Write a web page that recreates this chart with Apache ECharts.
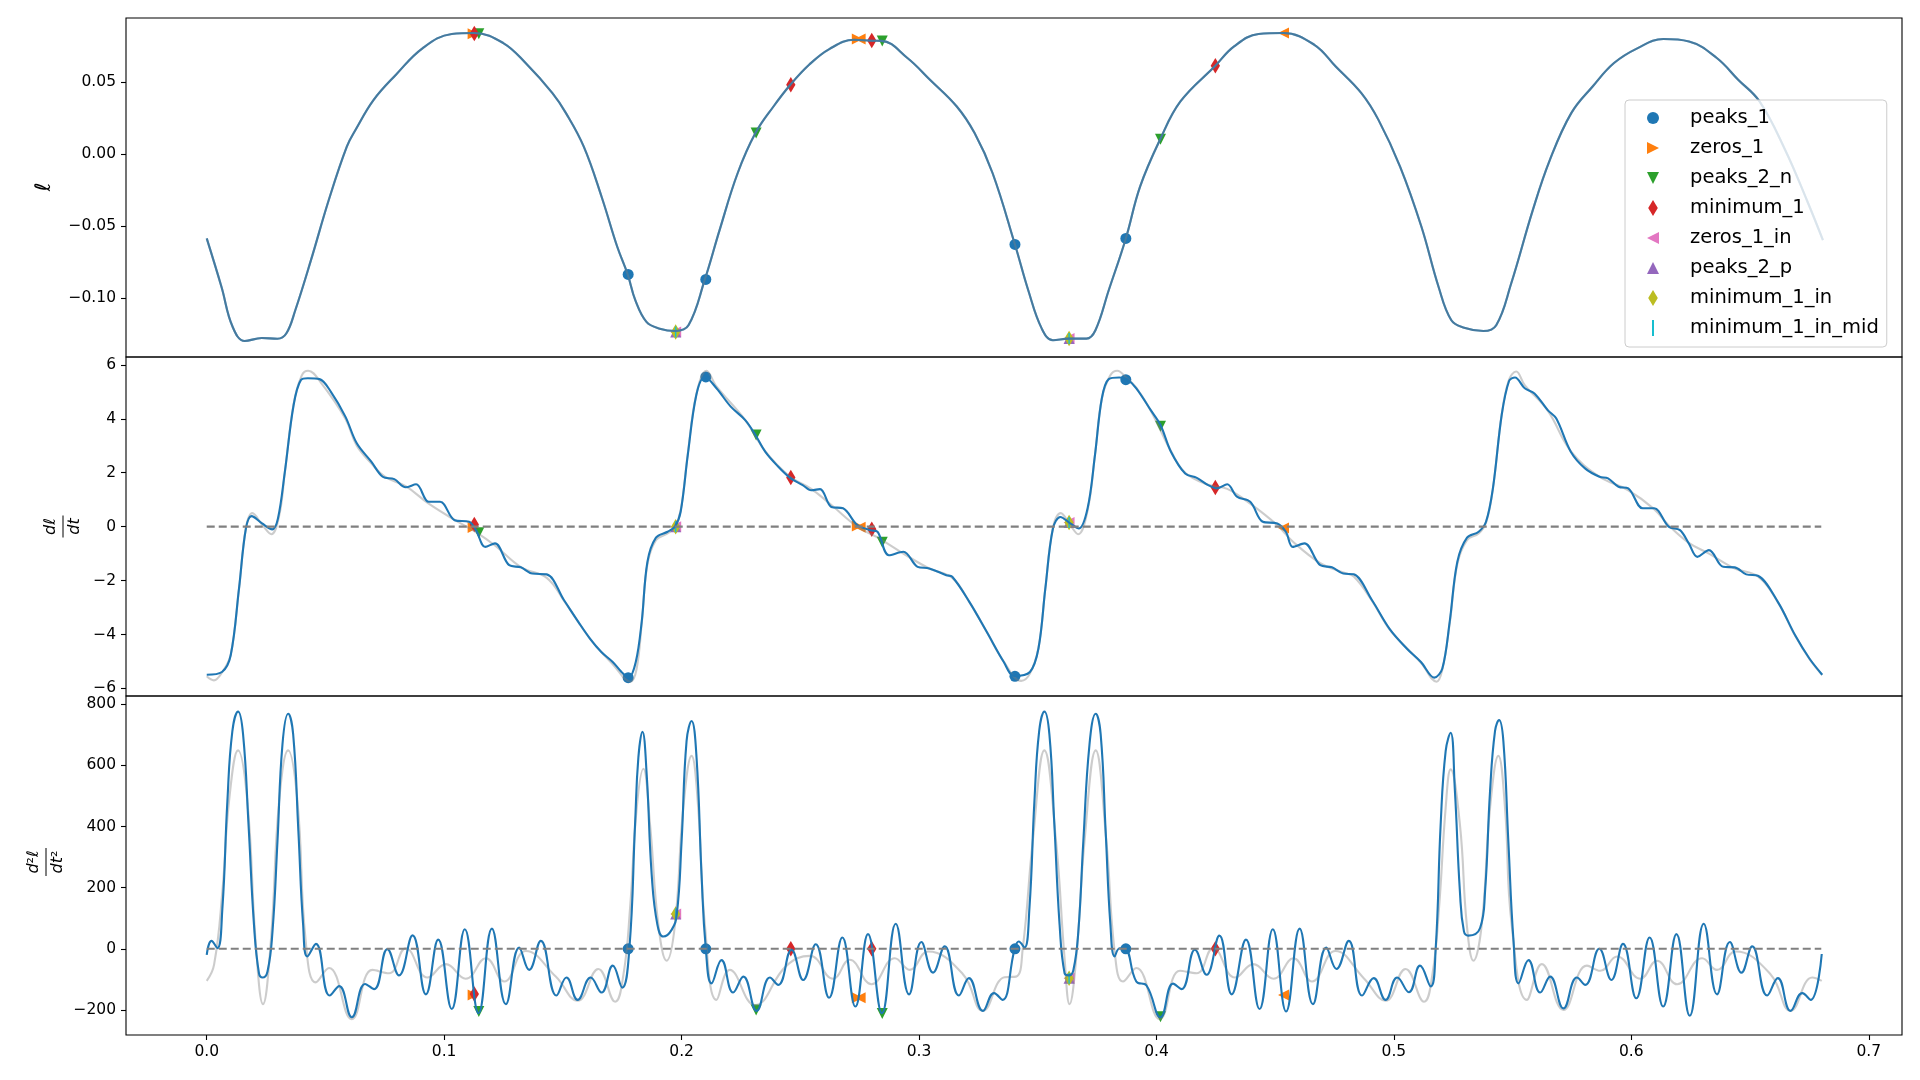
<!DOCTYPE html>
<html><head><meta charset="utf-8">
<script src="https://cdn.jsdelivr.net/npm/echarts@6/dist/echarts.min.js"></script>
<style>html,body{margin:0;padding:0;background:#fff}#c{width:1920px;height:1080px}</style>
</head><body><div id="c"></div>
<script>
// ---------- tick values ----------
const xTicks = [0, 0.1, 0.2, 0.3, 0.4, 0.5, 0.6, 0.7];
const ellTicks = [-0.10, -0.05, 0.00, 0.05];
const dTicks = [-6, -4, -2, 0, 2, 4, 6];
const d2Ticks = [-200, 0, 200, 400, 600, 800];

// ---------- curves [t, value] ----------
const ellLine = [[0,-0.0586],[0.0062,-0.0922],[0.0109,-0.1200],[0.0160,-0.1299],[0.0232,-0.1278],[0.0298,-0.1283],[0.0335,-0.1247],[0.0373,-0.1085],[0.0439,-0.0737],[0.0514,-0.0319],[0.0590,0.0052],[0.0627,0.0169],[0.0703,0.0377],[0.0797,0.0552],[0.0910,0.0737],[0.1032,0.0835],[0.1126,0.0842],[0.1249,0.0772],[0.1343,0.0633],[0.1456,0.0424],[0.1513,0.0285],[0.1588,0.0052],[0.1663,-0.0296],[0.1729,-0.0644],[0.1773,-0.0836],[0.1805,-0.1015],[0.1852,-0.1166],[0.1908,-0.1213],[0.1974,-0.1229],[0.2029,-0.1190],[0.2098,-0.0871],[0.2160,-0.0528],[0.2236,-0.0133],[0.2311,0.0146],[0.2387,0.0331],[0.2458,0.0482],[0.2537,0.0621],[0.2622,0.0730],[0.2726,0.0795],[0.2801,0.0788],[0.2842,0.0787],[0.2951,0.0668],[0.3046,0.0517],[0.3159,0.0331],[0.3234,0.0146],[0.3310,-0.0133],[0.3404,-0.0628],[0.3460,-0.0946],[0.3517,-0.1213],[0.3564,-0.1294],[0.3630,-0.1282],[0.3705,-0.1282],[0.3743,-0.1224],[0.3799,-0.0946],[0.3871,-0.0586],[0.3931,-0.0226],[0.4016,0.0104],[0.4101,0.0366],[0.4248,0.0614],[0.4327,0.0749],[0.4430,0.0835],[0.4534,0.0842],[0.4665,0.0760],[0.4755,0.0609],[0.4863,0.0424],[0.4935,0.0238],[0.5026,-0.0087],[0.5116,-0.0505],[0.5188,-0.0922],[0.5242,-0.1155],[0.5296,-0.1206],[0.5377,-0.1229],[0.5431,-0.1189],[0.5494,-0.0899],[0.5585,-0.0389],[0.5657,-0.0040],[0.5747,0.0285],[0.5837,0.0470],[0.5927,0.0633],[0.6027,0.0737],[0.6135,0.0800],[0.6243,0.0783],[0.6360,0.0668],[0.6450,0.0517],[0.6540,0.0366],[0.6648,0.0029],[0.6739,-0.0319],[0.6807,-0.0598]];

const dLine = [[0,-5.49],[0.0064,-5.39],[0.0101,-4.77],[0.0136,-2.29],[0.0165,-0.07],[0.0189,0.39],[0.0233,0.12],[0.0276,-0.1],[0.03,0.3],[0.0329,2.03],[0.0366,4.51],[0.0397,5.44],[0.0426,5.5],[0.0475,5.47],[0.0523,5.0],[0.0584,4.08],[0.0632,3.09],[0.0693,2.41],[0.0741,1.85],[0.079,1.76],[0.0838,1.46],[0.0882,1.57],[0.0935,0.92],[0.0983,0.92],[0.1044,0.24],[0.1105,0.18],[0.1134,-0.13],[0.1173,-0.75],[0.1214,-0.62],[0.1274,-1.43],[0.1323,-1.51],[0.1371,-1.74],[0.1432,-1.77],[0.1505,-2.73],[0.1565,-3.53],[0.1614,-4.15],[0.1662,-4.65],[0.171,-5.02],[0.1747,-5.39],[0.1776,-5.61],[0.1807,-5.02],[0.1832,-3.53],[0.1856,-1.31],[0.1892,-0.41],[0.1941,-0.19],[0.1972,0],[0.1996,0.55],[0.2026,2.65],[0.2062,4.88],[0.2098,5.56],[0.2147,5.13],[0.2207,4.45],[0.2268,3.95],[0.2311,3.4],[0.2352,2.78],[0.2401,2.28],[0.2457,1.81],[0.251,1.54],[0.2546,1.35],[0.2583,1.39],[0.2631,0.73],[0.268,0.68],[0.274,0.06],[0.2796,-0.13],[0.2825,-0.19],[0.2873,-1.06],[0.2934,-0.93],[0.2994,-1.49],[0.3043,-1.55],[0.3115,-1.8],[0.314,-1.86],[0.3212,-2.79],[0.3285,-3.9],[0.3357,-5.02],[0.3401,-5.54],[0.3467,-5.39],[0.3503,-4.52],[0.3532,-2.29],[0.3564,-0.07],[0.3595,0.36],[0.3637,0.12],[0.3673,-0.07],[0.371,0.68],[0.3741,2.65],[0.377,4.76],[0.3799,5.47],[0.3843,5.53],[0.3875,5.47],[0.3915,5.13],[0.3976,4.32],[0.4017,3.77],[0.4061,2.78],[0.4121,1.97],[0.417,1.81],[0.4218,1.54],[0.4255,1.42],[0.4298,1.57],[0.4339,1.11],[0.4395,0.92],[0.4448,0.18],[0.4509,0.12],[0.4545,-0.19],[0.4574,-0.75],[0.4623,-0.62],[0.469,-1.43],[0.4739,-1.51],[0.4787,-1.74],[0.4831,-1.77],[0.4908,-2.73],[0.4981,-3.78],[0.5054,-4.52],[0.5114,-5.02],[0.517,-5.6],[0.5204,-5.26],[0.5235,-3.53],[0.5267,-1.31],[0.5308,-0.41],[0.5357,-0.19],[0.5388,0.18],[0.5417,1.42],[0.5454,4.14],[0.5485,5.4],[0.551,5.53],[0.5551,5.13],[0.5592,4.94],[0.5648,4.32],[0.5684,4.01],[0.5745,2.78],[0.5805,2.16],[0.5866,1.85],[0.5902,1.79],[0.5946,1.48],[0.5987,1.42],[0.6048,0.68],[0.6096,0.68],[0.6157,0],[0.6205,-0.13],[0.6242,-0.62],[0.6278,-1.12],[0.6327,-0.87],[0.6387,-1.49],[0.6436,-1.51],[0.6484,-1.77],[0.6533,-1.82],[0.6617,-2.79],[0.669,-4.03],[0.675,-4.89],[0.6804,-5.49]];

const dRaw = [[0,-5.55],[0.003,-5.7],[0.0065,-5.4],[0.0101,-4.75],[0.0136,-2.3],[0.0165,-0.05],[0.0192,0.5],[0.0235,0.05],[0.0272,-0.28],[0.0305,0.4],[0.0329,2.0],[0.0366,4.55],[0.04,5.6],[0.0427,5.78],[0.048,5.35],[0.0584,4.0],[0.0632,3.0],[0.0693,2.35],[0.075,1.85],[0.0838,1.5],[0.0935,0.85],[0.1044,0.25],[0.1134,-0.2],[0.1214,-0.7],[0.1323,-1.5],[0.1432,-1.9],[0.1505,-2.75],[0.1614,-4.15],[0.171,-5.1],[0.1785,-5.75],[0.181,-5.3],[0.1832,-3.6],[0.1856,-1.4],[0.1892,-0.5],[0.1941,-0.25],[0.1972,0],[0.1996,0.6],[0.2026,2.7],[0.2062,4.9],[0.2105,5.78],[0.2147,5.2],[0.2268,3.95],[0.2352,2.8],[0.2457,1.85],[0.2546,1.4],[0.2631,0.8],[0.274,0.0],[0.2825,-0.4],[0.2934,-1.0],[0.3043,-1.55],[0.314,-1.9],[0.3212,-2.8],[0.3285,-3.9],[0.3357,-5.0],[0.343,-5.72],[0.3467,-5.45],[0.3503,-4.5],[0.3532,-2.3],[0.3564,-0.05],[0.3597,0.5],[0.3637,0.05],[0.367,-0.28],[0.371,0.6],[0.3741,2.65],[0.377,4.75],[0.3805,5.6],[0.3835,5.78],[0.3875,5.5],[0.3915,5.15],[0.3976,4.3],[0.4061,2.8],[0.4121,2.0],[0.4218,1.55],[0.4298,1.4],[0.4395,0.85],[0.4509,0.05],[0.4574,-0.55],[0.469,-1.35],[0.4787,-1.7],[0.4831,-1.85],[0.4908,-2.75],[0.4981,-3.8],[0.5054,-4.5],[0.5114,-5.05],[0.518,-5.75],[0.5204,-5.3],[0.5235,-3.6],[0.5267,-1.4],[0.5308,-0.5],[0.5357,-0.25],[0.5388,0.15],[0.5417,1.4],[0.5454,4.15],[0.5485,5.45],[0.5515,5.75],[0.5551,5.25],[0.5648,4.3],[0.5745,2.8],[0.5866,1.85],[0.5987,1.35],[0.6096,0.65],[0.6157,0.05],[0.6242,-0.6],[0.6327,-1.0],[0.6436,-1.55],[0.6533,-1.85],[0.6617,-2.8],[0.669,-4.05],[0.675,-4.9],[0.6804,-5.5]];

const d2Line = [[0,-20],[0.002,26],[0.0045,2],[0.0066,133],[0.0087,483],[0.0108,712],[0.0132,776],[0.0153,702],[0.0176,407],[0.0199,79],[0.022,-80],[0.0235,-94],[0.0256,-74],[0.0277,57],[0.0298,352],[0.0319,669],[0.0343,769],[0.0364,702],[0.0386,385],[0.0406,79],[0.0424,-25],[0.046,16],[0.0518,-153],[0.0558,-122],[0.0611,-224],[0.0667,-115],[0.0705,-132],[0.0761,-1],[0.081,-87],[0.0867,44],[0.0923,-149],[0.0975,30],[0.1032,-197],[0.1087,64],[0.1145,-211],[0.1201,66],[0.126,-181],[0.1316,4],[0.1358,-69],[0.1407,26],[0.1473,-153],[0.1515,-94],[0.1562,-167],[0.1617,-94],[0.1663,-143],[0.171,-55],[0.175,-127],[0.178,0],[0.1804,407],[0.1818,626],[0.1835,710],[0.1853,570],[0.1874,243],[0.1898,79],[0.1923,40],[0.1958,62],[0.198,114],[0.2,352],[0.2021,680],[0.2042,745],[0.2063,625],[0.2084,243],[0.2102,0],[0.2126,-113],[0.2168,-37],[0.2217,-143],[0.226,-91],[0.2316,-203],[0.2372,-94],[0.2407,-118],[0.2463,-3],[0.2512,-102],[0.2565,15],[0.2621,-160],[0.2677,37],[0.2732,-189],[0.2785,48],[0.2844,-211],[0.2902,82],[0.2958,-149],[0.301,22],[0.3059,-78],[0.3108,8],[0.3168,-153],[0.321,-96],[0.3269,-203],[0.3316,-145],[0.3351,-167],[0.3403,0],[0.342,24],[0.3444,4],[0.3465,133],[0.3486,483],[0.3506,712],[0.3528,776],[0.3549,702],[0.357,407],[0.3592,79],[0.3613,-80],[0.3631,-87],[0.365,-70],[0.3671,57],[0.3692,352],[0.3718,669],[0.3744,769],[0.3765,702],[0.3786,385],[0.3806,79],[0.3824,-25],[0.3845,2],[0.3869,0],[0.3915,-107],[0.3958,-120],[0.4017,-224],[0.407,-114],[0.4106,-132],[0.4162,-3],[0.4211,-85],[0.4265,43],[0.4317,-149],[0.4377,30],[0.4434,-197],[0.449,64],[0.4546,-205],[0.4603,66],[0.4659,-181],[0.4715,4],[0.4758,-66],[0.481,26],[0.4866,-153],[0.4915,-96],[0.4965,-167],[0.5014,-94],[0.5063,-142],[0.511,-55],[0.5155,-123],[0.5176,0],[0.5197,407],[0.5218,647],[0.5239,707],[0.5257,516],[0.5278,188],[0.5295,57],[0.5314,43],[0.5363,68],[0.5384,188],[0.5405,516],[0.5426,713],[0.5443,748],[0.5461,680],[0.5482,352],[0.5504,24],[0.5525,-113],[0.5567,-37],[0.5616,-143],[0.5658,-91],[0.5714,-195],[0.5771,-94],[0.5806,-118],[0.5865,0],[0.5916,-102],[0.5965,16],[0.6021,-162],[0.6077,37],[0.6134,-189],[0.619,48],[0.6246,-219],[0.6305,82],[0.6361,-149],[0.6415,22],[0.6464,-78],[0.6509,8],[0.6572,-153],[0.6617,-96],[0.6671,-203],[0.672,-145],[0.6755,-167],[0.6802,-17]];

const d2Raw = [[0,-105],[0.0031,-52],[0.0066,188],[0.0094,483],[0.0132,649],[0.0171,483],[0.0206,24],[0.0237,-181],[0.027,24],[0.0305,483],[0.0343,649],[0.0382,483],[0.0417,24],[0.0459,-110],[0.0515,-63],[0.0611,-230],[0.0698,-69],[0.0768,-80],[0.0838,2],[0.093,-94],[0.1007,-50],[0.1091,-98],[0.1176,-31],[0.1253,-107],[0.1344,-7],[0.147,-91],[0.1562,-170],[0.1649,-66],[0.172,-173],[0.1755,-85],[0.1783,133],[0.1811,461],[0.1839,589],[0.1867,407],[0.1902,79],[0.1937,-39],[0.1972,79],[0.2007,461],[0.2042,631],[0.207,461],[0.2098,79],[0.2147,-167],[0.2203,-69],[0.2309,-184],[0.2442,-55],[0.254,-23],[0.2638,-98],[0.2708,-36],[0.28,-116],[0.2898,-31],[0.2961,-69],[0.3038,-9],[0.3185,-83],[0.3269,-203],[0.336,-93],[0.3409,-91],[0.3437,2],[0.3479,352],[0.3528,649],[0.3577,352],[0.3613,-31],[0.3634,-181],[0.3662,-31],[0.3697,352],[0.3744,649],[0.3789,352],[0.3824,-9],[0.3859,-107],[0.3915,-63],[0.4014,-230],[0.4099,-72],[0.4169,-80],[0.4239,2],[0.4331,-94],[0.4408,-50],[0.4493,-98],[0.4577,-31],[0.4655,-107],[0.4754,-7],[0.4873,-96],[0.4965,-170],[0.5049,-66],[0.5127,-173],[0.5162,-85],[0.519,133],[0.5218,461],[0.5239,587],[0.5278,407],[0.5307,79],[0.5335,-39],[0.537,79],[0.5405,461],[0.544,631],[0.5468,461],[0.5496,79],[0.556,-167],[0.5623,-50],[0.5714,-200],[0.5813,-55],[0.5869,-72],[0.594,-25],[0.6038,-98],[0.6108,-39],[0.6193,-116],[0.6298,-31],[0.6361,-69],[0.6439,-9],[0.6586,-83],[0.6671,-203],[0.6762,-94],[0.6802,-105]];

const zeroLine = [[0, 0], [0.68, 0]];

// ---------- event markers ----------
const peaks1T   = [0.1775, 0.2102, 0.3404, 0.3871];
const peaks1Ell = [-0.0836, -0.0871, -0.0628, -0.0586];
const peaks1D   = [-5.6, 5.55, -5.55, 5.45];
const peaks1D2  = [0, 0, 0, 0];

const zeros1T    = [0.1122, 0.2740, 0.2752, 0.4535];
const zeros1Kind = ['rise', 'rise', 'fall', 'fall'];
const zeros1Ell  = [0.0837, 0.0800, 0.0800, 0.0842];
const zeros1D    = [-0.03, 0.02, -0.02, -0.05];
const zeros1D2   = [-151, -160, -160, -151];

const peaks2nT   = [0.1146, 0.2314, 0.2845, 0.4017];
const peaks2nEll = [0.0836, 0.0146, 0.0786, 0.0104];
const peaks2nD   = [-0.23, 3.4, -0.58, 3.72];
const peaks2nD2  = [-205, -200, -212, -222];

const min1T   = [0.1127, 0.2460, 0.2801, 0.4248];
const min1Ell = [0.0838, 0.0482, 0.0789, 0.0614];
const min1D   = [0.08, 1.82, -0.1, 1.45];
const min1D2  = [-148, 0, 0, 0];

const inT   = [0.1975, 0.3632];
const inEll = [-0.1236, -0.1282];
const inD   = [0.0, 0.15];
const inD2  = [114, -96];

// ---------- styles / layout ----------
const BLUE = '#1f77b4';
const GRAY = 'rgba(128,128,128,0.4)';
const SYM = {
  right: 'path://M0,0L2,1L0,2Z',
  left: 'path://M2,0L0,1L2,2Z',
  down: 'path://M0,0L2,0L1,2Z',
  up: 'path://M1,0L2,2L0,2Z',
  thin: 'path://M3,0L6,5L3,10L0,5Z',
  vline: 'path://M0,0L1.4,0L1.4,11L0,11Z'
};
const FONT = 'DejaVu Sans';
const minus = s => s.replace('-', '\u2212');

const grids = [18, 357, 696].map(top => ({
  left: 126, top: top, width: 1776, height: 339, show: true,
  borderColor: '#000', borderWidth: 1.1, backgroundColor: 'transparent',
  containLabel: false, outerBoundsMode: 'none'
}));

const xAxes = [0, 1, 2].map(i => ({
  type: 'value', gridIndex: i, min: -0.034, max: 0.714, position: 'bottom',
  splitLine: { show: false }, axisLine: { show: false, onZero: false },
  axisTick: { show: i === 2, length: 5, lineStyle: { color: '#000', width: 1.1 }, customValues: xTicks },
  axisLabel: { show: i === 2, customValues: xTicks, formatter: v => v.toFixed(1),
    color: '#000', fontSize: 15.5, fontFamily: FONT, margin: 9 }
}));

function yAxis(i, min, max, ticks, fmt) {
  return {
    type: 'value', gridIndex: i, min: min, max: max, position: 'left',
    splitLine: { show: false }, axisLine: { show: false, onZero: false },
    axisTick: { show: true, length: 5, lineStyle: { color: '#000', width: 1.1 }, customValues: ticks },
    axisLabel: { customValues: ticks, formatter: fmt, color: '#000', fontSize: 15.5, fontFamily: FONT, margin: 10 }
  };
}
const yAxes = [
  yAxis(0, -0.141, 0.0946, ellTicks, v => minus(v.toFixed(2))),
  yAxis(1, -6.28, 6.29, dTicks, v => minus(String(Math.round(v)))),
  yAxis(2, -282, 827, d2Ticks, v => minus(String(Math.round(v))))
];

function lineSeries(gi, data, color, width, smooth, extra) {
  return Object.assign({
    type: 'line', xAxisIndex: gi, yAxisIndex: gi, data: data, showSymbol: false,
    smooth: smooth, lineStyle: { color: color, width: width }, itemStyle: { color: color },
    silent: true, animation: false, emphasis: { disabled: true }
  }, extra || {});
}

const series = [
  lineSeries(0, ellLine, BLUE, 2.1, 0.4),
  lineSeries(0, ellLine, GRAY, 2.1, 0.4),
  lineSeries(1, dRaw, GRAY, 2.1, 0.4),
  lineSeries(1, dLine, BLUE, 2.1, 0.35),
  lineSeries(1, zeroLine, '#808080', 2.1, false, { lineStyle: { color: '#808080', width: 2.1, type: [8, 4] } }),
  lineSeries(2, d2Raw, GRAY, 2.1, 0.45),
  lineSeries(2, d2Line, BLUE, 2.1, 0.45),
  lineSeries(2, zeroLine, '#808080', 2.1, false, { lineStyle: { color: '#808080', width: 2.1, type: [8, 4] } })
];

const markerDefs = [
  { name: 'peaks_1', color: '#1f77b4', symbol: 'circle', size: 11, t: peaks1T, vals: [peaks1Ell, peaks1D, peaks1D2] },
  { name: 'zeros_1', color: '#ff7f0e', symbol: SYM.right, size: 11, t: zeros1T, vals: [zeros1Ell, zeros1D, zeros1D2], kind: zeros1Kind },
  { name: 'peaks_2_n', color: '#2ca02c', symbol: SYM.down, size: 11, t: peaks2nT, vals: [peaks2nEll, peaks2nD, peaks2nD2] },
  { name: 'minimum_1', color: '#d62728', symbol: SYM.thin, size: 15.5, t: min1T, vals: [min1Ell, min1D, min1D2] },
  { name: 'zeros_1_in', color: '#e377c2', symbol: SYM.left, size: 11, t: inT, vals: [inEll, inD, inD2] },
  { name: 'peaks_2_p', color: '#9467bd', symbol: SYM.up, size: 11, t: inT, vals: [inEll, inD, inD2] },
  { name: 'minimum_1_in', color: '#bcbd22', symbol: SYM.thin, size: 15.5, t: inT, vals: [inEll, inD, inD2] },
  { name: 'minimum_1_in_mid', color: '#17becf', symbol: SYM.vline, size: 11, t: inT, vals: [inEll, inD, inD2] }
];

for (let gi = 0; gi < 3; gi++) {
  markerDefs.forEach(m => {
    const data = m.t.map((t, k) => {
      const item = { value: [t, m.vals[gi][k]] };
      if (m.kind) item.symbol = m.kind[k] === 'rise' ? SYM.right : SYM.left;
      return item;
    });
    series.push({
      type: 'scatter', name: m.name, xAxisIndex: gi, yAxisIndex: gi, data: data,
      symbol: m.symbol, symbolSize: m.size, symbolKeepAspect: true,
      itemStyle: { color: m.color, opacity: 1 }, silent: true, animation: false,
      emphasis: { disabled: true }
    });
  });
}

function fraction(cx, cy, num, den, half) {
  const txt = (s, y) => ({
    type: 'text', x: 0, y: y,
    style: { text: s, fontSize: 16, fontFamily: FONT, fill: '#000', align: 'center', verticalAlign: 'middle',
      rich: { i: { fontStyle: 'italic', fontSize: 16, fontFamily: FONT } } }
  });
  return {
    type: 'group', x: cx, y: cy, rotation: Math.PI / 2, silent: true,
    children: [
      txt(num, -12),
      { type: 'line', shape: { x1: -half, y1: 0, x2: half, y2: 0 }, style: { stroke: '#000', lineWidth: 1 } },
      txt(den, 12)
    ]
  };
}

const option = {
  animation: false,
  backgroundColor: '#ffffff',
  textStyle: { fontFamily: FONT },
  grid: grids,
  xAxis: xAxes,
  yAxis: yAxes,
  legend: {
    data: markerDefs.map(m => m.name),
    orient: 'vertical', left: 1625, top: 100, padding: [8, 8, 9, 22],
    itemWidth: 12, itemHeight: 16, itemGap: 10, selectedMode: false,
    backgroundColor: 'rgba(255,255,255,0.8)', borderColor: '#cccccc', borderWidth: 1, borderRadius: 4,
    formatter: n => '{g|}' + n,
    textStyle: { fontSize: 19.5, color: '#000', fontFamily: FONT, lineHeight: 20, rich: { g: { width: 26, lineHeight: 20 } } }
  },
  graphic: [
    { type: 'text', x: 45, y: 187, rotation: Math.PI / 2, silent: true,
      style: { text: '\u2113', fontSize: 21, fontStyle: 'italic', fontFamily: FONT, fill: '#000', align: 'center', verticalAlign: 'middle' } },
    fraction(63, 526.5, '{i|d}\u2113', '{i|dt}', 11),
    fraction(46, 862, '{i|d}\u00b2\u2113', '{i|dt}\u00b2', 14)
  ],
  series: series
};

const chart = echarts.init(document.getElementById('c'), null, { renderer: 'canvas' });
chart.setOption(option);
</script></body></html>
